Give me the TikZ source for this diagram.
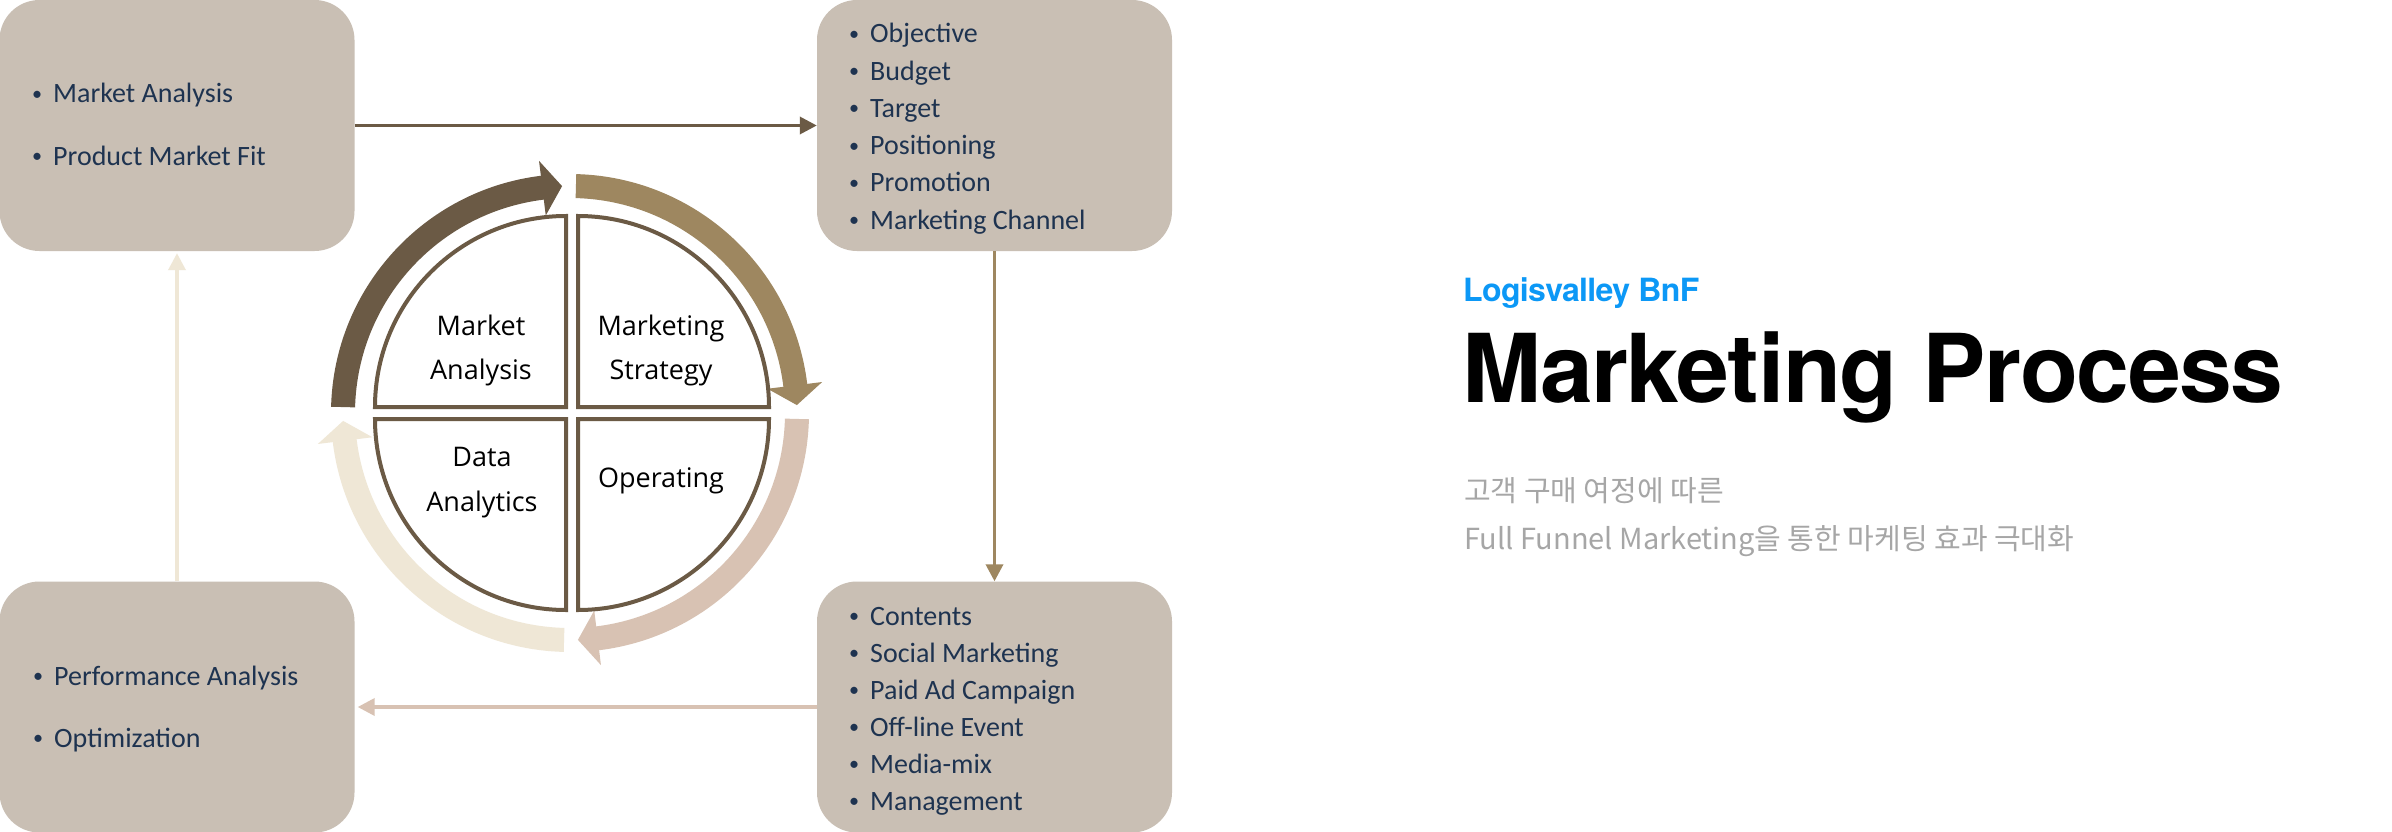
\documentclass[tikz,border=0pt]{standalone}
\usepackage{fontspec}
\setmainfont{Carlito}
\newfontfamily\osans{Open Sans}
\newfontfamily\herostitle[LetterSpace=-1.5]{TeX Gyre Heros}
\newfontfamily\herosbrand[LetterSpace=-2]{TeX Gyre Heros}
\newfontfamily\kr{Noto Sans CJK KR}
\usetikzlibrary{arrows.meta}
\definecolor{boxfill}{HTML}{C9BFB4}
\definecolor{cdark}{HTML}{6B5A45}
\definecolor{colive}{HTML}{9E8760}
\definecolor{cpink}{HTML}{D8C2B3}
\definecolor{ccream}{HTML}{EFE7D6}
\definecolor{navy}{HTML}{1E3350}
\definecolor{brandblue}{HTML}{0C98F6}
\definecolor{subgrey}{HTML}{A6A6A6}
\newcommand{\bitem}[1]{\makebox[0pt][c]{\raisebox{2.6pt}{\scalebox{0.72}{\textbullet}}}\hspace{16pt}#1}
\begin{document}
\begin{tikzpicture}[x=1pt,y=-1pt,
  box/.style={rectangle, rounded corners=40pt, fill=boxfill, minimum width=355pt, minimum height=251pt, inner sep=0pt},
  item/.style={anchor=base west, inner sep=0pt, font=\fontsize{28}{30}\selectfont, text=navy},
  qtext/.style={anchor=base, inner sep=0pt, font=\osans\fontsize{27}{30}\selectfont, text=black},
  quad/.style={draw=cdark, line width=4pt, fill=white, line join=miter},
  conn/.style={line width=3.5pt, -{Triangle[length=17pt,width=17pt]}}]
\useasboundingbox (0,0) rectangle (2392,832);
\fill[white] (0,0) rectangle (2392,832);

% boxes
\node[box] (tl) at (177,125.5) {};
\node[box] (tr) at (994.5,125.5) {};
\node[box] (bl) at (177,707) {};
\node[box] (br) at (994.5,707) {};

% connectors
\draw[conn, cdark] (tl.east) -- (tr.west);
\draw[conn, colive] (tr.south) -- (br.north);
\draw[conn, cpink, shorten >=3pt] (br.west) -- (bl.east);
\draw[conn, ccream, shorten >=2pt] (bl.north) -- (tl.south);

% box texts
\node[item] (tl1) at (37,103) {\bitem{Market Analysis}};
\node[item] (tl2) at (37,165) {\bitem{Product Market Fit}};
\foreach \t [count=\i] in {Objective,Budget,Target,Positioning,Promotion,Marketing Channel}
  \node[item] (tr\i) at (854,{43+37.2*(\i-1)}) {\bitem{\t}};
\foreach \t [count=\i] in {Contents,Social Marketing,Paid Ad Campaign,Off-line Event,Media-mix,Management}
  \node[item] (br\i) at (854,{625+37*(\i-1)}) {\bitem{\t}};
\node[item] (bl1) at (38,685) {\bitem{Performance Analysis}};
\node[item] (bl2) at (38,747) {\bitem{Optimization}};

% ring arrows
\begin{scope}[shift={(570,413)}, yscale=-1]
  \fill[cdark] (178.5:239) arc[start angle=178.5, end angle=97, radius=239] -- (97:254) -- (92:227) -- (97:199) -- (97:215) arc[start angle=97, end angle=178.5, radius=215] -- cycle;
  \fill[colive] (88.5:239) arc[start angle=88.5, end angle=7, radius=239] -- (7:254) -- (2:227) -- (7:199) -- (7:215) arc[start angle=7, end angle=88.5, radius=215] -- cycle;
  \fill[cpink] (-1.5:239) arc[start angle=-1.5, end angle=-83, radius=239] -- (-83:254) -- (-88:227) -- (-83:199) -- (-83:215) arc[start angle=-83, end angle=-1.5, radius=215] -- cycle;
  \fill[ccream] (-91.5:239) arc[start angle=-91.5, end angle=-173, radius=239] -- (-173:254) -- (-178:227) -- (-173:199) -- (-173:215) arc[start angle=-173, end angle=-91.5, radius=215] -- cycle;
\end{scope}

% quadrants
\begin{scope}[shift={(572,413)}, yscale=-1]
  \draw[quad] (-6,6) -- ++(-191,0) arc[start angle=180, end angle=90, radius=191] -- cycle;
  \draw[quad] (6,6) -- ++(0,191) arc[start angle=90, end angle=0, radius=191] -- cycle;
  \draw[quad] (6,-6) -- ++(191,0) arc[start angle=0, end angle=-90, radius=191] -- cycle;
  \draw[quad] (-6,-6) -- ++(0,-191) arc[start angle=-90, end angle=-180, radius=191] -- cycle;
\end{scope}

% quadrant texts
\node[qtext] (qa1) at (481,335) {Market};
\node[qtext] (qa2) at (481,379) {Analysis};
\node[qtext] (qs1) at (661,335) {Marketing};
\node[qtext] (qs2) at (661,379) {Strategy};
\node[qtext] (qd1) at (482,466) {Data};
\node[qtext] (qd2) at (482,511) {Analytics};
\node[qtext] (qo1) at (661,487) {Operating};

% right side texts
\node[anchor=base west, inner sep=0pt, text=brandblue, font=\herosbrand\bfseries\fontsize{32}{36}\selectfont] (brand) at (1463,301) {Logisvalley BnF};
\node[anchor=base west, inner sep=0pt, text=black, font=\herostitle\bfseries\fontsize{95}{100}\selectfont] (title) at (1462,402) {Marketing Process};
\node[anchor=base west, inner sep=0pt, text=subgrey, font=\kr\fontsize{29}{32}\selectfont] (sub1) at (1464,501) {고객 구매 여정에 따른};
\node[anchor=base west, inner sep=0pt, text=subgrey, font=\kr\fontsize{29}{32}\selectfont] (sub2) at (1464,549) {Full Funnel Marketing을 통한 마케팅 효과 극대화};
\end{tikzpicture}
\end{document}
